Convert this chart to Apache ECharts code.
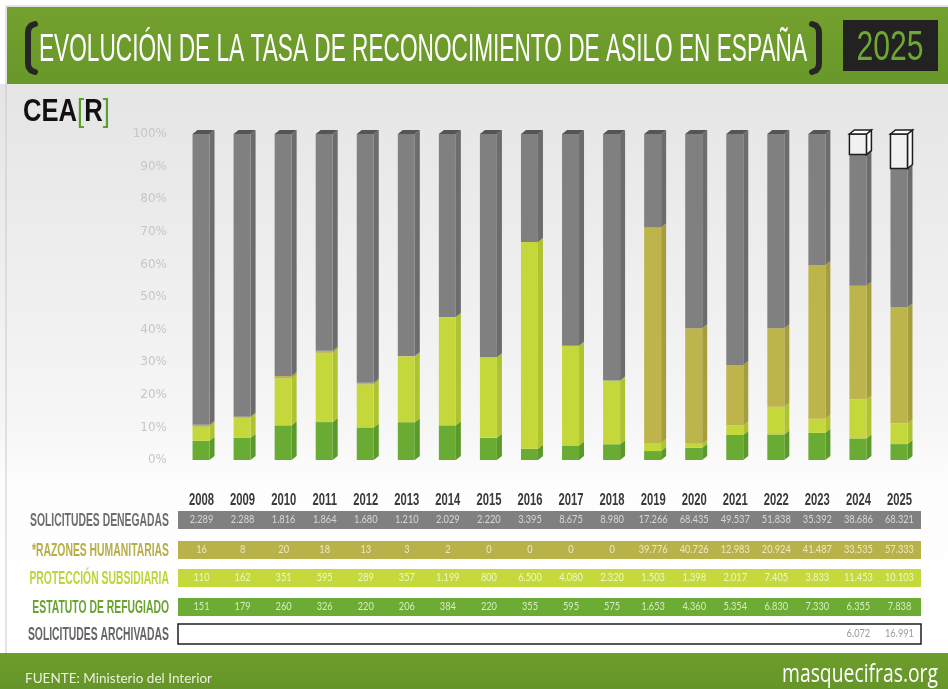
<!DOCTYPE html>
<html>
<head>
<meta charset="utf-8">
<script src="https://cdn.jsdelivr.net/npm/echarts@6/dist/echarts.min.js"></script>
<style>
  html, body { margin: 0; padding: 0; background: #fff; }
  #chart { width: 948px; height: 689px; }
</style>
</head>
<body>
<div id="chart"></div>
<script>
// datos (Ministerio del Interior)
const years = ['2008', '2009', '2010', '2011', '2012', '2013', '2014', '2015', '2016', '2017', '2018', '2019', '2020', '2021', '2022', '2023', '2024', '2025'];
const denegadas = [2289, 2288, 1816, 1864, 1680, 1210, 2029, 2220, 3395, 8675, 8980, 17266, 68435, 49537, 51838, 35392, 38686, 68321];
const humanitarias = [16, 8, 20, 18, 13, 3, 2, 0, 0, 0, 0, 39776, 40726, 12983, 20924, 41487, 33535, 57333];
const subsidiaria = [110, 162, 351, 595, 289, 357, 1199, 800, 6500, 4080, 2320, 1503, 1398, 2017, 7405, 3833, 11453, 10103];
const refugiado = [151, 179, 260, 326, 220, 206, 384, 220, 355, 595, 575, 1653, 4360, 5354, 6830, 7330, 6355, 7838];
const archivadas = [null, null, null, null, null, null, null, null, null, null, null, null, null, null, null, null, 6072, 16991];
const yTicks = [0, 10, 20, 30, 40, 50, 60, 70, 80, 90, 100];

const SANS = '"Liberation Sans", sans-serif';
const LIGHT = 'Lato, sans-serif';

// capas de abajo a arriba
const layers = [
  { name: 'ESTATUTO DE REFUGIADO', values: refugiado, front: '#6aab34', side: '#5b9a2a', label: '#6aa332', text: '#d8ecbf', band: '#6cab34' },
  { name: 'PROTECCIÓN SUBSIDIARIA', values: subsidiaria, front: '#c4d83b', side: '#afc22f', label: '#c0d33a', text: '#f0f6c8', band: '#c5d93c' },
  { name: '*RAZONES HUMANITARIAS', values: humanitarias, front: '#bdb54b', side: '#a69e3c', label: '#b8ae48', text: '#ede7bd', band: '#b9b24a' },
  { name: 'SOLICITUDES DENEGADAS', values: denegadas, front: '#808080', side: '#6c6c6c', label: '#6e6e6e', text: '#d6d6d6', band: '#808080' },
  { name: 'SOLICITUDES ARCHIVADAS', values: archivadas, front: '#f1f1f1', side: '#fbfbfb', label: '#666666', text: '#9a9a9a', band: null, outline: true }
];

const totals = years.map((y, i) => layers.reduce((s, l) => s + (l.values[i] || 0), 0));

function fmt(n) {
  return String(n).replace(/\B(?=(\d{3})+(?!\d))/g, '.');
}

// no hay fuentes condensadas: se estrecha el texto con scaleX
const mctx = document.createElement('canvas').getContext('2d');
function widthOf(text, font) {
  mctx.font = font;
  return mctx.measureText(text).width;
}

function segData(k) {
  return years.map((y, i) => {
    const v = layers[k].values[i];
    if (v == null) return [i, 0, 0];
    let base = 0;
    for (let j = 0; j < k; j++) base += layers[j].values[i] || 0;
    return [i, base / totals[i] * 100, (base + v) / totals[i] * 100];
  });
}

function bar3d(layer) {
  return function (params, api) {
    const i = api.value(0), b = api.value(1), t = api.value(2);
    if (t - b <= 0) return;
    const p0 = api.coord([i, b]);
    const p1 = api.coord([i, t]);
    const x0 = p0[0] - 9, x1 = p0[0] + 8, dx = 5, dy = 4;
    const stroke = layer.outline ? { stroke: '#1e1e1e', lineWidth: 1.5 } : {};
    const children = [
      { type: 'polygon', shape: { points: [[x1, p1[1]], [x1 + dx, p1[1] - dy], [x1 + dx, p0[1] - dy], [x1, p0[1]]] },
        style: Object.assign({ fill: layer.side }, stroke) },
      { type: 'rect', shape: { x: x0, y: p1[1], width: x1 - x0, height: p0[1] - p1[1] },
        style: Object.assign({ fill: layer.front }, stroke) }
    ];
    if (t > 99.99) {
      children.push({ type: 'polygon', shape: { points: [[x0, p1[1]], [x0 + dx, p1[1] - dy], [x1 + dx, p1[1] - dy], [x1, p1[1]]] },
        style: Object.assign({ fill: layer.outline ? '#ffffff' : '#555555' }, stroke) });
    }
    return { type: 'group', children: children };
  };
}

const chart = echarts.init(document.getElementById('chart'));

const option = {
  backgroundColor: '#ffffff',
  animation: false,
  grid: { left: 181, right: 28, top: 134, bottom: 229 },
  xAxis: {
    type: 'category',
    data: years,
    axisLine: { show: false },
    axisTick: { show: false },
    axisLabel: { show: false }
  },
  yAxis: {
    type: 'value',
    min: 0,
    max: 100,
    interval: 10,
    splitLine: { show: false },
    axisLabel: {
      color: '#c6c6c6', fontFamily: '"DejaVu Sans", sans-serif', fontSize: 12, margin: 14,
      formatter: v => yTicks.includes(v) ? v + '%' : ''
    }
  },
  series: layers.map((l, k) => ({
    type: 'custom',
    name: l.name,
    renderItem: bar3d(l),
    encode: { x: 0, y: 2 },
    data: segData(k),
    z: 10
  }))
};

chart.setOption(option);

// marco, cabecera, tabla y pie
const g = [];
g.push({ type: 'rect', silent: true, z: -10, shape: { x: 0, y: 84, width: 948, height: 570 },
  style: { fill: new echarts.graphic.LinearGradient(0, 0, 0, 1, [
    { offset: 0, color: '#e5e5e5' }, { offset: 0.6, color: '#f6f6f6' }, { offset: 0.7, color: '#fdfdfd' }, { offset: 1, color: '#ffffff' }]) } });
g.push({ type: 'rect', silent: true, z: -5, shape: { x: 6, y: 6, width: 960, height: 700 },
  style: { fill: 'none', stroke: '#c9c9c9', lineWidth: 1 } });
g.push({ type: 'rect', silent: true, shape: { x: 7, y: 7, width: 941, height: 77 },
  style: { fill: new echarts.graphic.LinearGradient(0, 0, 0, 1, [{ offset: 0, color: '#74a02e' }, { offset: 1, color: '#679829' }]) } });
g.push({ type: 'polyline', silent: true, shape: { points: [[35, 24], [31, 25.5], [28.5, 29], [28, 33], [28, 63], [28.5, 67], [31, 70.5], [35, 72]] },
  style: { fill: 'none', stroke: '#262626', lineWidth: 6, lineCap: 'round', lineJoin: 'round' } });
g.push({ type: 'polyline', silent: true, shape: { points: [[812, 24], [816, 25.5], [818.5, 29], [819, 33], [819, 63], [818.5, 67], [816, 70.5], [812, 72]] },
  style: { fill: 'none', stroke: '#262626', lineWidth: 6, lineCap: 'round', lineJoin: 'round' } });

const title = 'EVOLUCIÓN DE LA TASA DE RECONOCIMIENTO DE ASILO EN ESPAÑA';
const titleFont = '39px ' + SANS;
g.push({ type: 'text', silent: true, x: 423, y: 50, scaleX: 768 / widthOf(title, titleFont),
  style: { text: title, fill: '#ffffff', font: titleFont, align: 'center', verticalAlign: 'middle' } });
g.push({ type: 'rect', silent: true, shape: { x: 843, y: 20, width: 95, height: 51 }, style: { fill: '#222222' } });
const yearFontBig = '43px ' + SANS;
g.push({ type: 'text', silent: true, x: 890, y: 48, scaleX: 67 / widthOf('2025', yearFontBig),
  style: { text: '2025', fill: '#6ea830', font: yearFontBig, align: 'center', verticalAlign: 'middle' } });

const logoFont = 'bold 32px ' + SANS;
const logoBr = '32px ' + SANS;
g.push({ type: 'text', silent: true, x: 23, y: 112, scaleX: 0.8,
  style: { text: '{k|CEA}{g|[}{k|R}{g|]}', verticalAlign: 'middle',
    rich: { k: { fill: '#111111', font: logoFont }, g: { fill: '#5aa02a', font: logoBr } } } });

// años bajo cada barra
const yearFont = 'bold 17px ' + SANS;
const yearScale = 25 / widthOf('2008', yearFont);
years.forEach(y => {
  g.push({ type: 'text', silent: true, x: chart.convertToPixel({ xAxisIndex: 0 }, y), y: 500, scaleX: yearScale,
    style: { text: y, fill: '#3a3a3a', font: yearFont, align: 'center', verticalAlign: 'middle' } });
});

const rowY = [607, 578, 550, 520, 634];
const rowFont = 'bold 19px ' + SANS;
const rowScale = 139 / widthOf('SOLICITUDES DENEGADAS', rowFont);
const valFont = '10.5px ' + LIGHT;
layers.forEach((l, k) => {
  const cy = rowY[k];
  g.push({ type: 'text', silent: true, x: 169, y: cy + 1, scaleX: rowScale,
    style: { text: l.name, fill: l.label, font: rowFont, align: 'right', verticalAlign: 'middle' } });
  if (l.band) {
    g.push({ type: 'rect', silent: true, shape: { x: 178, y: cy - 9, width: 743, height: 18 }, style: { fill: l.band } });
  } else {
    g.push({ type: 'rect', silent: true, shape: { x: 178, y: cy - 10, width: 743, height: 20 },
      style: { fill: '#ffffff', stroke: '#1e1e1e', lineWidth: 1.5 } });
  }
  l.values.forEach((v, i) => {
    if (v == null) return;
    const x = chart.convertToPixel({ xAxisIndex: 0 }, years[i]);
    g.push({ type: 'text', silent: true, x: x, y: cy, scaleX: 0.88,
      style: { text: fmt(v), fill: l.text, font: valFont, align: 'center', verticalAlign: 'middle' } });
  });
});

g.push({ type: 'rect', silent: true, shape: { x: 0, y: 653, width: 948, height: 36 },
  style: { fill: new echarts.graphic.LinearGradient(0, 0, 0, 1, [{ offset: 0, color: '#6e9d2c' }, { offset: 1, color: '#659528' }]) } });
const srcText = 'FUENTE: Ministerio del Interior';
const srcFont = '13px ' + LIGHT;
g.push({ type: 'text', silent: true, x: 25, y: 679, scaleX: 187 / widthOf(srcText, srcFont),
  style: { text: srcText, fill: '#e9f1dc', font: srcFont, verticalAlign: 'middle' } });
const webFont = '25px "Open Sans", sans-serif';
g.push({ type: 'text', silent: true, x: 938, y: 675, scaleX: 156 / widthOf('masquecifras.org', webFont),
  style: { text: 'masquecifras.org', fill: '#ffffff', font: webFont, align: 'right', verticalAlign: 'middle' } });

chart.setOption({ graphic: g.map(e => Object.assign({ z: e.z != null ? e.z : 0 }, e)) });
window.addEventListener('resize', () => chart.resize());
</script>
</body>
</html>
